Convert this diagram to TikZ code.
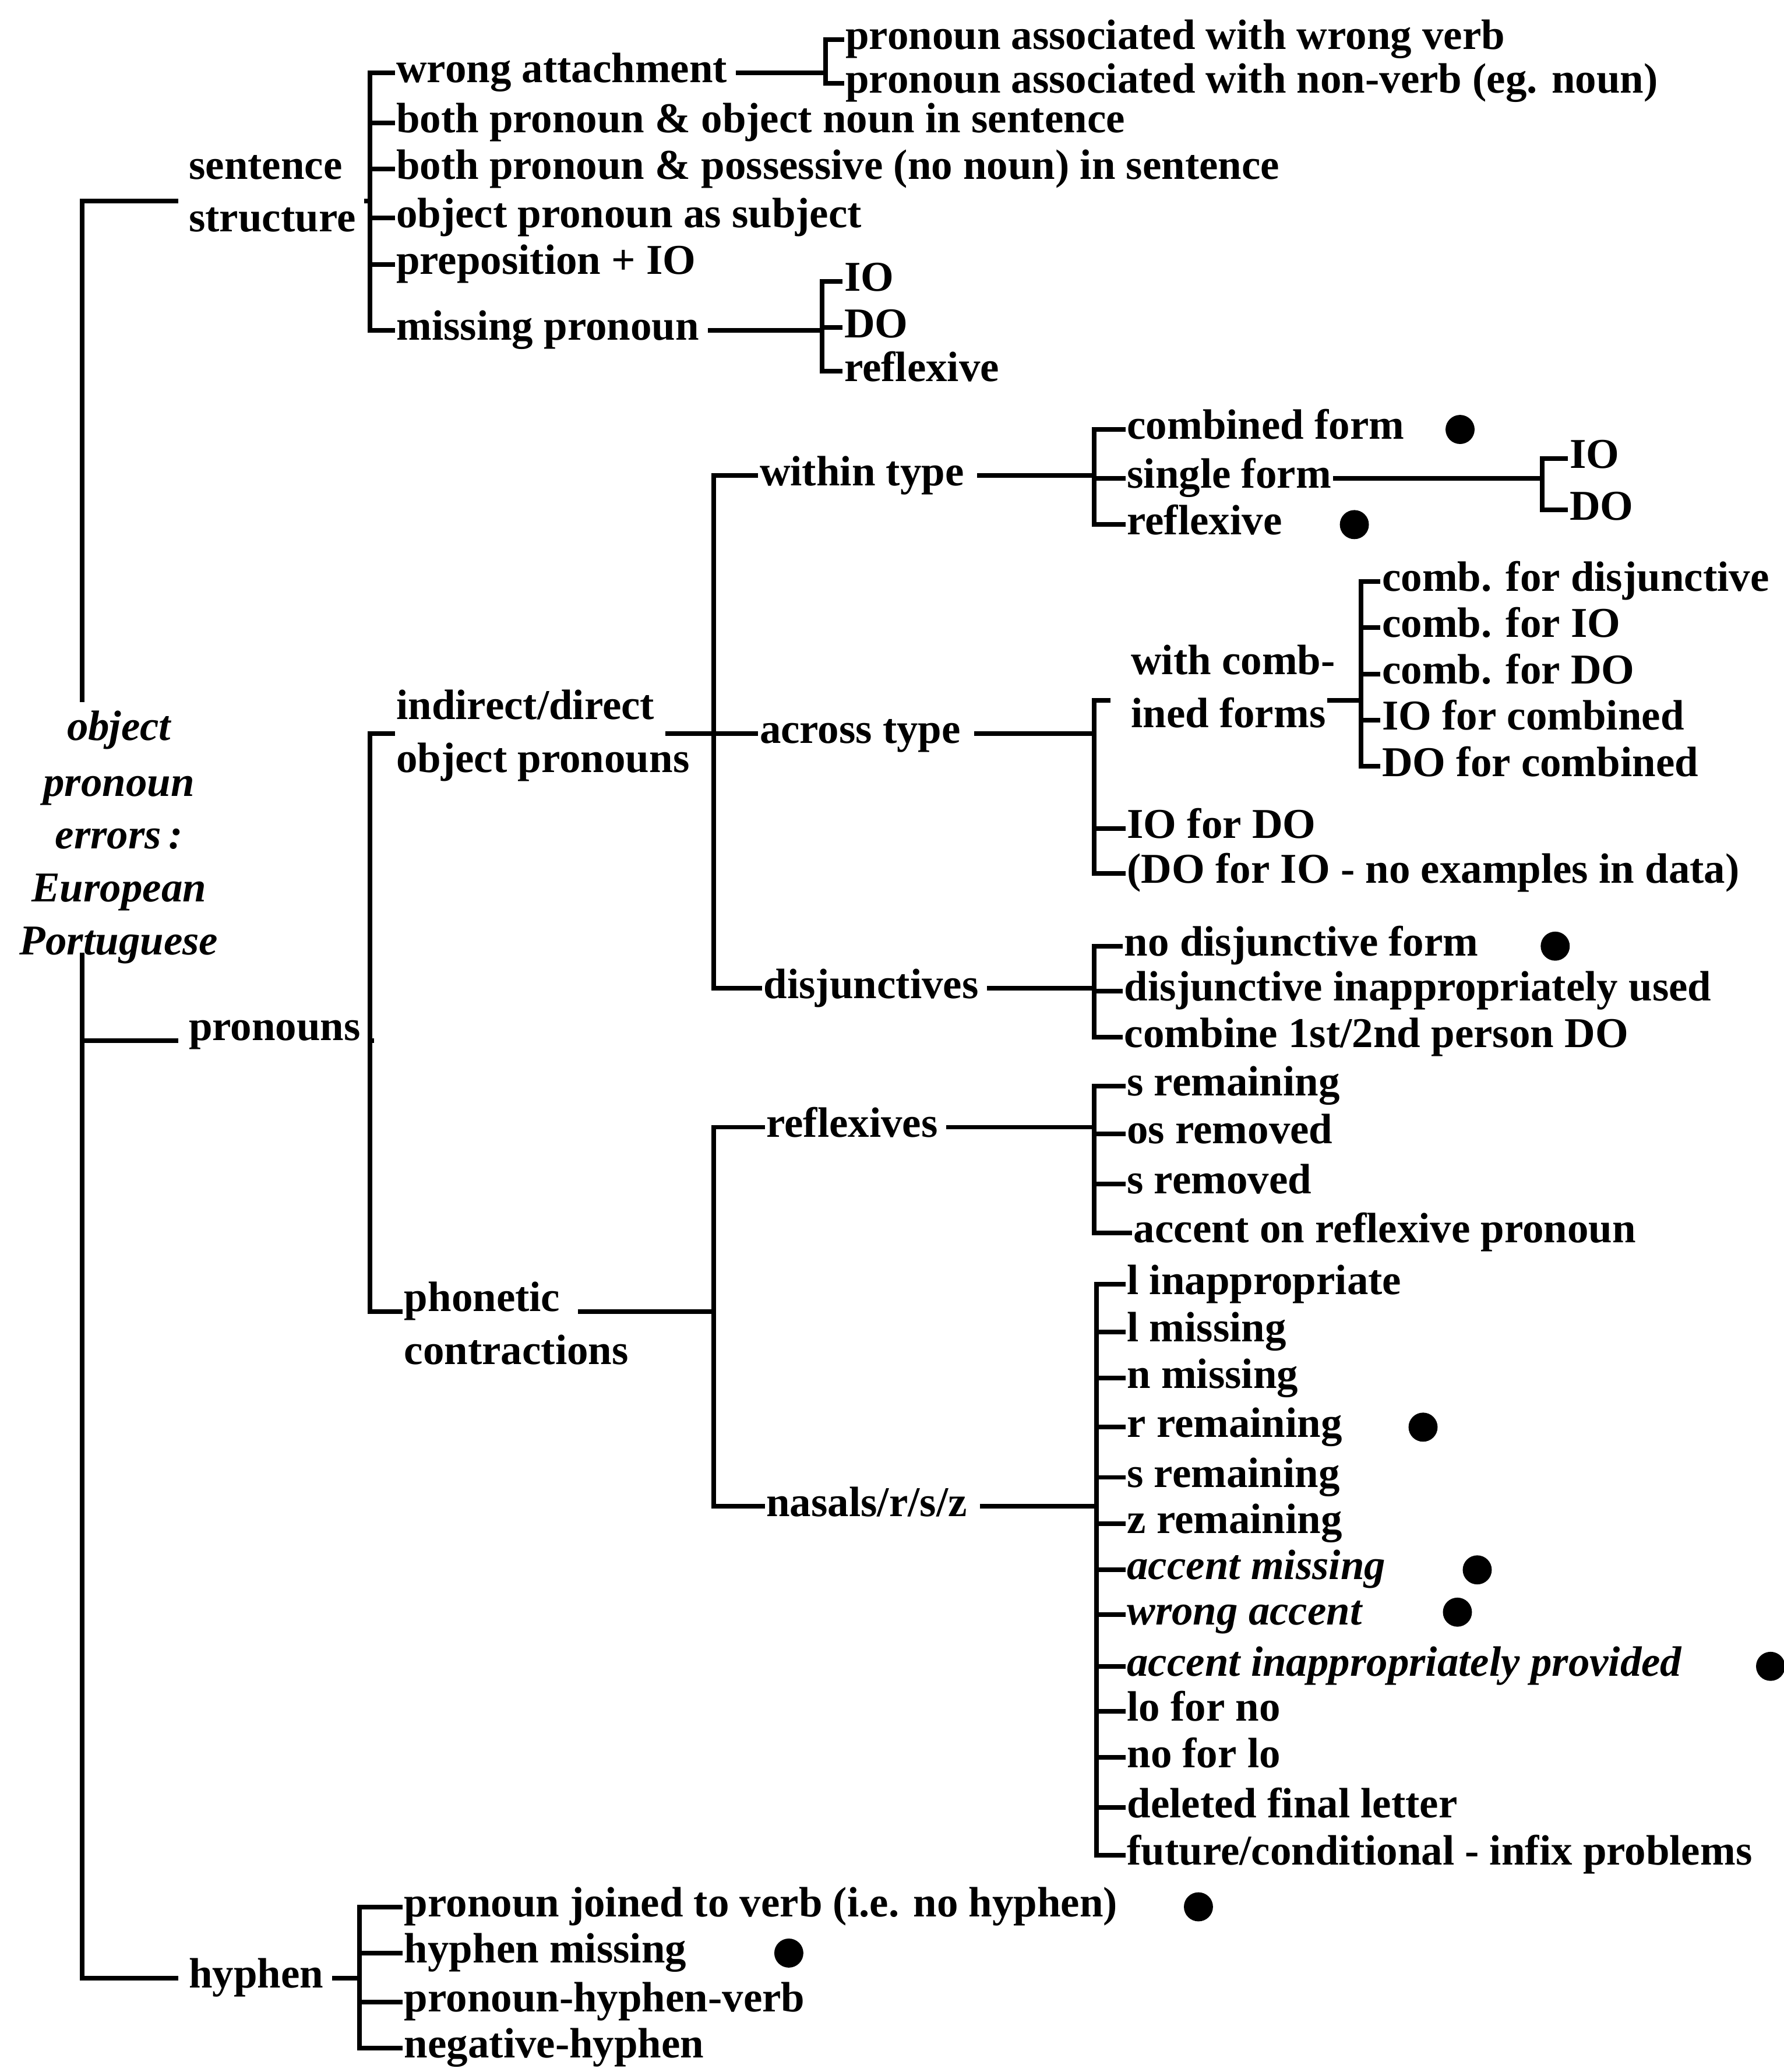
\documentclass[tikz,border=0pt]{standalone}
\usepackage{fontspec}
\setmainfont{Liberation Serif}
\usetikzlibrary{calc}
\begin{document}
\begin{tikzpicture}[x=0.02cm,y=-0.02cm,
  lbl/.style={anchor=west,inner xsep=1.5pt,inner ysep=0pt,
    font=\fontsize{18.3}{22}\selectfont\bfseries,text height=8.4pt,text depth=0pt},
  ital/.style={lbl,font=\fontsize{18.3}{22}\selectfont\bfseries\itshape},
  rootl/.style={inner xsep=1.5pt,inner ysep=0pt,
    font=\fontsize{18.3}{22}\selectfont\bfseries\itshape,text height=8.4pt,text depth=0pt},
  conn/.style={line width=2pt,line cap=rect},
  stub/.style={conn,shorten <=3pt},
  dot/.style={circle,fill,inner sep=0pt,minimum size=0.44cm}]

% page
\fill[white] (0,0) rectangle (1350,1568);
\useasboundingbox (0,0) rectangle (1350,1568);

% root label
\node[rootl] (r1) at (90,553) {object};
\node[rootl] (r2) at (90,595) {pronoun};
\node[rootl] (r3) at (90,635) {errors\,:};
\node[rootl] (r4) at (90,675) {European};
\node[rootl] (r5) at (90,715) {Portuguese};
\coordinate (spine) at (62,0);

% first level
\node[lbl] (sst1) at (140,128) {sentence};
\node[lbl] (sst2) at (140,168) {structure};
\node[lbl] (pr) at (140,780) {pronouns};
\node[lbl] (hy) at (140,1497) {hyphen};
\coordinate (ssmid) at ($(sst1.west)!0.6!(sst2.west)$);

% sentence structure
\coordinate (bkS) at (280,0);
\node[lbl] (s1) at (297,55) {wrong attachment};
\node[lbl] (s2) at (297,93) {both pronoun \& object noun in sentence};
\node[lbl] (s3) at (297,128) {both pronoun \& possessive (no noun) in sentence};
\node[lbl] (s4) at (297,165) {object pronoun as subject};
\node[lbl] (s5) at (297,200) {preposition + IO};
\node[lbl] (s6) at (297,250) {missing pronoun};

\coordinate (bkW) at (625,0);
\node[lbl] (w1) at (637,30) {pronoun associated with wrong verb};
\node[lbl] (w2) at (637,63) {pronoun associated with non-verb (eg. noun)};

\coordinate (bkM) at (622,0);
\node[lbl] (m1) at (636,213) {IO};
\node[lbl] (m2) at (636,248) {DO};
\node[lbl] (m3) at (636,281) {reflexive};

% pronouns
\coordinate (bkP) at (280,0);
\node[lbl] (io1) at (297,537) {indirect/direct};
\node[lbl] (io2) at (297,577) {object pronouns};
\coordinate (iomid) at ($(io1.west)!0.45!(io2.west)$);
\node[lbl] (ph1) at (303,985) {phonetic};
\node[lbl] (ph2) at (303,1025) {contractions};

\coordinate (bkI) at (540,0);
\node[lbl] (it1) at (572,360) {within type};
\node[lbl] (it2) at (572,555) {across type};
\node[lbl] (it3) at (575,748) {disjunctives};

\coordinate (bkWT) at (828,0);
\node[lbl] (wt1) at (850,325) {combined form};
\node[lbl] (wt2) at (850,362) {single form};
\node[lbl] (wt3) at (850,397) {reflexive};
\node[dot] (dA) at (1105,325) {};
\node[dot] (dB) at (1025,397) {};

\coordinate (bkSF) at (1167,0);
\node[lbl] (sf1) at (1185,347) {IO};
\node[lbl] (sf2) at (1185,386) {DO};

\coordinate (bkAT) at (828,0);
\node[lbl] (at1a) at (853,503) {with comb-};
\node[lbl] (at1b) at (853,543) {ined forms};
\coordinate (atmid) at ($(at1a.west)!0.68!(at1b.west)$);
\node[lbl] (at2) at (850,627) {IO for DO};
\node[lbl] (at3) at (850,661) {(DO for IO - no examples in data)};

\coordinate (bkWC) at (1030,0);
\node[lbl] (wc1) at (1043,440) {comb. for disjunctive};
\node[lbl] (wc2) at (1043,475) {comb. for IO};
\node[lbl] (wc3) at (1043,510) {comb. for DO};
\node[lbl] (wc4) at (1043,545) {IO for combined};
\node[lbl] (wc5) at (1043,580) {DO for combined};

\coordinate (bkD) at (828,0);
\node[lbl] (d1) at (848,716) {no disjunctive form};
\node[lbl] (d2) at (848,750) {disjunctive inappropriately used};
\node[lbl] (d3) at (848,785) {combine 1st/2nd person DO};
\node[dot] (dC) at (1177,716) {};

\coordinate (bkPh) at (540,0);
\node[lbl] (pc1) at (577,853) {reflexives};
\node[lbl] (pc2) at (577,1140) {nasals/r/s/z};

\coordinate (bkR) at (828,0);
\node[lbl] (rf1) at (850,822) {s remaining};
\node[lbl] (rf2) at (850,858) {os removed};
\node[lbl] (rf3) at (850,896) {s removed};
\node[lbl] (rf4) at (855,933) {accent on reflexive pronoun};

\coordinate (bkN) at (830,0);
\node[lbl] (n1) at (850,972) {l inappropriate};
\node[lbl] (n2) at (850,1008) {l missing};
\node[lbl] (n3) at (850,1043) {n missing};
\node[lbl] (n4) at (850,1080) {r remaining};
\node[lbl] (n5) at (850,1118) {s remaining};
\node[lbl] (n6) at (850,1153) {z remaining};
\node[ital] (n7) at (850,1188) {accent missing};
\node[ital] (n8) at (850,1222) {wrong accent};
\node[ital] (n9) at (850,1261) {accent inappropriately provided};
\node[lbl] (n10) at (850,1295) {lo for no};
\node[lbl] (n11) at (850,1330) {no for lo};
\node[lbl] (n12) at (850,1368) {deleted final letter};
\node[lbl] (n13) at (850,1404) {future/conditional - infix problems};
\node[dot] (dD) at (1077,1080) {};
\node[dot] (dE) at (1118,1188) {};
\node[dot] (dF) at (1103,1220) {};
\node[dot] (dG) at (1340,1261) {};

% hyphen
\coordinate (bkH) at (272,0);
\node[lbl] (h1) at (303,1443) {pronoun joined to verb (i.e. no hyphen)};
\node[lbl] (h2) at (303,1478) {hyphen missing};
\node[lbl] (h3) at (303,1515) {pronoun-hyphen-verb};
\node[lbl] (h4) at (303,1550) {negative-hyphen};
\node[dot] (dH) at (907,1443) {};
\node[dot] (dI) at (597,1478) {};

% ---- connectors ----
% spine
\draw[conn] ([yshift=9pt]r1.north -| spine) -- (ssmid -| spine) -- ([xshift=-4pt]ssmid);
\draw[conn] (r5.south -| spine) -- (hy.west -| spine) -- ([xshift=-4pt]hy.west);
\draw[conn] (pr.south west -| spine) -- ([xshift=-4pt]pr.south west);

% sentence structure
\draw[stub] (sst2.east |- ssmid) -- (ssmid -| bkS);
\draw[conn] (s1.west -| bkS) -- (s6.west -| bkS);
\foreach \c in {s1,s2,s3,s4,s5,s6} \draw[conn] (\c.west -| bkS) -- (\c.west);
\draw[stub] (s1.east) -- (s1.east -| bkW);
\draw[conn] (w1.west -| bkW) -- (w2.west -| bkW);
\foreach \c in {w1,w2} \draw[conn] (\c.west -| bkW) -- (\c.west);
\draw[stub] (s6.east) -- (s6.east -| bkM);
\draw[conn] (m1.west -| bkM) -- (m3.west -| bkM);
\foreach \c in {m1,m2,m3} \draw[conn] (\c.west -| bkM) -- (\c.west);

% pronouns
\draw[stub] (pr.south east) -- (pr.south east -| bkP);
\draw[conn] (iomid -| bkP) -- (ph1.south west -| bkP);
\draw[conn] (iomid -| bkP) -- (iomid);
\draw[conn] (ph1.south west -| bkP) -- (ph1.south west);

\draw[conn] ([xshift=-11pt]io2.east |- iomid) -- (iomid -| bkI);
\draw[conn] (it1.west -| bkI) -- (it3.west -| bkI);
\foreach \c in {it1,it2,it3} \draw[conn] (\c.west -| bkI) -- (\c.west);

\draw[stub] ([xshift=2pt]it1.east) -- (it1.east -| bkWT);
\draw[conn] (wt1.west -| bkWT) -- (wt3.west -| bkWT);
\foreach \c in {wt1,wt2,wt3} \draw[conn] (\c.west -| bkWT) -- (\c.west);
\draw[conn] (wt2.east) -- (wt2.east -| bkSF);
\draw[conn] (sf1.west -| bkSF) -- (sf2.west -| bkSF);
\foreach \c in {sf1,sf2} \draw[conn] (\c.west -| bkSF) -- (\c.west);

\draw[stub] ([xshift=2pt]it2.east) -- (it2.east -| bkAT);
\draw[conn] (atmid -| bkAT) -- (at3.west -| bkAT);
\draw[conn] (atmid -| bkAT) -- ([xshift=6pt]atmid -| bkAT);
\foreach \c in {at2,at3} \draw[conn] (\c.west -| bkAT) -- (\c.west);
\draw[conn] (at1b.east |- atmid) -- (atmid -| bkWC);
\draw[conn] (wc1.west -| bkWC) -- (wc5.west -| bkWC);
\foreach \c in {wc1,wc2,wc3,wc4,wc5} \draw[conn] (\c.west -| bkWC) -- (\c.west);

\draw[stub] (it3.east) -- (it3.east -| bkD);
\draw[conn] (d1.west -| bkD) -- (d3.west -| bkD);
\foreach \c in {d1,d2,d3} \draw[conn] (\c.west -| bkD) -- (\c.west);

% phonetic contractions
\draw[stub] ([xshift=4pt]ph1.south east) -- (ph1.south east -| bkPh);
\draw[conn] (pc1.west -| bkPh) -- (pc2.west -| bkPh);
\foreach \c in {pc1,pc2} \draw[conn] (\c.west -| bkPh) -- (\c.west);

\draw[stub] (pc1.east) -- (pc1.east -| bkR);
\draw[conn] (rf1.west -| bkR) -- (rf4.west -| bkR);
\foreach \c in {rf1,rf2,rf3,rf4} \draw[conn] (\c.west -| bkR) -- (\c.west);

\draw[stub] ([xshift=2pt]pc2.east) -- (pc2.east -| bkN);
\draw[conn] (n1.west -| bkN) -- (n13.west -| bkN);
\foreach \c in {n1,n2,n3,n4,n5,n6,n7,n8,n9,n10,n11,n12,n13} \draw[conn] (\c.west -| bkN) -- (\c.west);

% hyphen
\draw[stub] (hy.east) -- (hy.east -| bkH);
\draw[conn] (h1.west -| bkH) -- (h4.west -| bkH);
\foreach \c in {h1,h2,h3,h4} \draw[conn] (\c.west -| bkH) -- (\c.west);
\end{tikzpicture}
\end{document}
